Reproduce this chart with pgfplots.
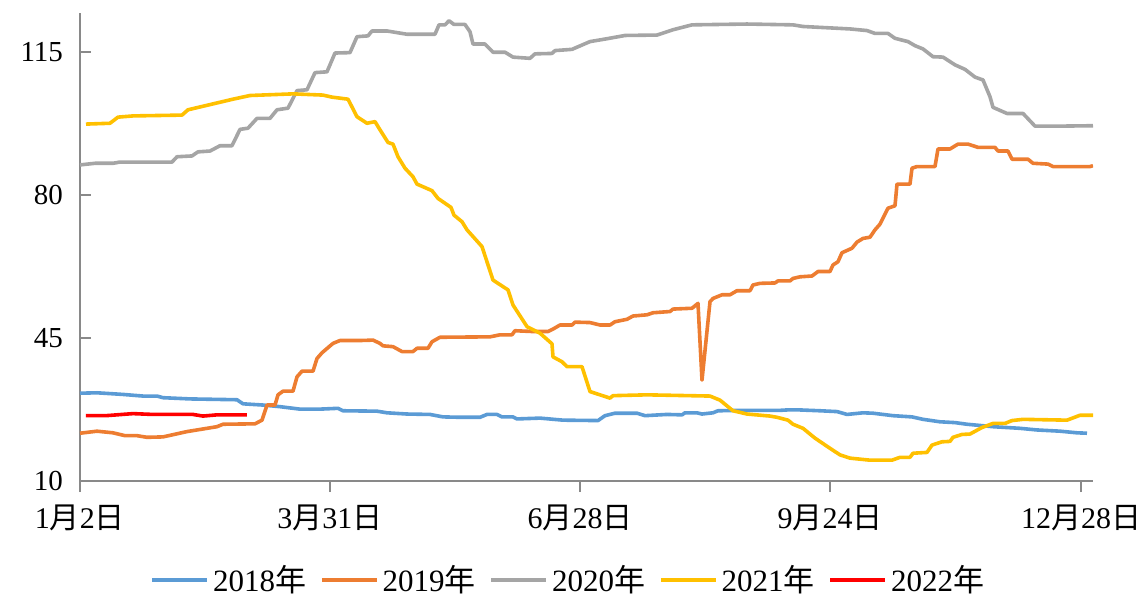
\documentclass[border=0pt]{standalone}
\usepackage{fontspec}
\setmainfont{Liberation Serif}
\newfontfamily\cjk{Noto Sans CJK SC}
\usepackage{pgfplots}
\pgfplotsset{compat=1.18}

\definecolor{c2018}{HTML}{5B9BD5}
\definecolor{c2019}{HTML}{ED7D31}
\definecolor{c2020}{HTML}{A5A5A5}
\definecolor{c2021}{HTML}{FFC000}
\definecolor{c2022}{HTML}{FF0000}
\definecolor{axgray}{HTML}{898989}

\newcommand{\yue}{{\cjk 月}}
\newcommand{\ri}{{\cjk 日}}
\newcommand{\nian}{{\cjk 年}}

\begin{document}
\begin{tikzpicture}
\begin{axis}[
  scale only axis,
  width=506.5pt, height=234.2pt,
  xmin=0, xmax=1013,
  ymin=10, ymax=124.7,
  axis x line*=bottom,
  axis y line*=left,
  axis line style={axgray, line width=1pt},
  xtick={0,250,500,750,1001},
  xticklabels={1\yue2\ri, 3\yue31\ri, 6\yue28\ri, 9\yue24\ri, 12\yue28\ri},
  ytick={10,45,80,115},
  xtick align=outside,
  ytick align=inside,
  major tick length=5.5pt,
  tick style={axgray, line width=1pt},
  xticklabel style={font=\fontsize{15}{18}\selectfont, yshift=-3pt},
  yticklabel style={font=\fontsize{14.5}{17}\selectfont, xshift=-5pt},
  /pgf/number format/assume math mode=true,
  legend style={
    draw=none, fill=none,
    at={(0.483,-0.211)}, anchor=center,
    font=\fontsize{15.5}{18}\selectfont,
    legend columns=5,
    /tikz/every even column/.append style={column sep=5pt},
  },
  legend image code/.code={\draw[#1, line width=1.75pt] (0pt,0pt) -- (27.5pt,0pt);},
  every axis plot/.append style={line width=1.8pt, line join=round},
]
\coordinate (o) at (rel axis cs:0,0);

% 2018
\addplot[c2018] coordinates {
(0,31.5)(17,31.6)(43,31.2)(63,30.8)(77,30.8)(83,30.4)(110,30.1)(157,29.9)(163,28.9)
(183,28.6)(200,28.2)(220,27.6)(240,27.6)(258,27.8)(263,27.2)(297,27.1)(307,26.7)
(327,26.4)(350,26.3)(363,25.7)(380,25.6)(400,25.6)(407,26.3)(417,26.3)(422,25.7)
(433,25.7)(437,25.2)(460,25.4)(483,24.9)(518,24.8)(525,26)(535,26.6)(557,26.6)
(565,26)(587,26.3)(602,26.2)(605,26.7)(617,26.7)(622,26.4)(633,26.7)(638,27.2)
(667,27.3)(700,27.3)(707,27.4)(720,27.4)(740,27.2)(757,27)(767,26.3)(783,26.7)
(793,26.6)(813,26)(832,25.7)(843,25.1)(860,24.5)(875,24.3)(887,23.9)(913,23.3)
(940,22.9)(957,22.5)(980,22.2)(997,21.8)(1007,21.7)
};
\addlegendentry{2018\nian}

% 2019
\addplot[c2019] coordinates {
(0,21.7)(17,22.2)(33,21.8)(45,21.1)(57,21.1)(67,20.7)(83,20.8)(107,22.1)(137,23.3)
(143,23.9)(175,24)(182,24.9)(187,28.6)(195,28.6)(198,31.1)(203,32)(213,32)(217,35.5)
(222,36.9)(233,36.9)(237,40)(242,41.4)(253,43.7)(260,44.4)(280,44.4)(293,44.5)
(300,43.7)(303,43.1)(313,42.9)(322,41.7)(333,41.7)(337,42.5)(348,42.5)(352,44.1)
(360,45.2)(410,45.3)(420,45.8)(432,45.8)(435,46.8)(453,46.6)(468,46.6)(473,47.2)
(480,48.2)(492,48.2)(495,48.9)(510,48.8)(520,48.2)(530,48.2)(535,49)(547,49.6)
(553,50.4)(567,50.7)(573,51.2)(590,51.5)(593,52.1)(612,52.3)(618,53.5)(622,34.7)
(630,53.9)(633,54.7)(642,55.6)(650,55.6)(657,56.6)(670,56.6)(673,58)(680,58.4)
(695,58.5)(698,59)(710,59)(713,59.6)(720,60)(732,60.2)(738,61.3)(750,61.3)(753,62.9)
(758,63.7)(762,65.9)(772,67)(777,68.5)(783,69.4)(790,69.7)(795,71.5)(800,72.9)
(808,76.8)(815,77.4)(817,82.7)(830,82.7)(832,86.6)(837,87)(855,87)(858,91.3)(870,91.3)
(878,92.5)(888,92.5)(898,91.7)(915,91.7)(918,90.8)(928,90.8)(932,88.8)(948,88.8)
(953,87.8)(968,87.6)(973,87)(1010,87)(1013,87.2)
};
\addlegendentry{2019\nian}

% 2020
\addplot[c2020] coordinates {
(0,87.4)(15,87.8)(33,87.8)(40,88.1)(92,88.1)(97,89.4)(112,89.6)(118,90.6)(130,90.8)
(140,92.1)(152,92.1)(160,96.1)(168,96.4)(177,98.8)(190,98.8)(197,100.9)(208,101.3)
(217,105.6)(227,105.8)(235,110)(247,110.2)(255,114.8)(270,114.9)(277,118.8)(288,119)
(292,120.2)(307,120.2)(317,119.8)(327,119.4)(355,119.4)(359,121.7)(365,121.7)
(369,122.7)(374,121.8)(385,121.8)(390,120)(393,117)(405,117)(413,115)(425,115)
(433,113.8)(450,113.5)(455,114.6)(472,114.7)(475,115.4)(492,115.7)(510,117.6)
(527,118.3)(545,119.1)(577,119.2)(593,120.5)(612,121.7)(667,121.9)(713,121.7)
(723,121.3)(770,120.7)(787,120.3)(795,119.6)(808,119.6)(815,118.4)(828,117.6)
(835,116.6)(843,115.8)(853,113.9)(863,113.8)(875,111.9)(885,110.8)(895,108.9)
(903,108.2)(910,104.1)(913,101.5)(927,100)(943,100)(955,96.9)(980,96.9)(1013,97)
};
\addlegendentry{2020\nian}

% 2021
\addplot[c2021] coordinates {
(6,97.4)(30,97.6)(38,99.1)(53,99.4)(102,99.6)(108,100.9)(153,103.5)(170,104.4)
(213,104.8)(243,104.5)(252,104)(268,103.5)(277,99.2)(287,97.6)(295,98)(300,96)
(308,92.9)(313,92.5)(318,89.4)(325,86.6)(333,84.5)(337,82.7)(352,81.1)(358,79.2)
(371,77)(374,75.1)(382,73.5)(387,71.5)(402,67.4)(413,59.2)(428,56.8)(433,53.1)
(447,47.8)(460,46.2)(472,43.6)(473,40.4)(482,39.2)(487,38)(502,38)(510,31.9)
(530,30.3)(533,30.9)(567,31.1)(630,30.8)(640,29.8)(653,27.2)(667,26.4)(690,25.9)
(697,25.6)(708,24.9)(713,23.9)(723,22.9)(735,20.5)(750,18)(760,16.4)(770,15.6)
(790,15.1)(812,15.1)(820,15.8)(830,15.8)(833,16.8)(847,17)(852,18.8)(862,19.6)
(870,19.7)(873,20.7)(882,21.4)(890,21.5)(902,23.1)(913,24.1)(925,24.1)(932,24.8)
(943,25.1)(987,24.9)(1000,26.1)(1013,26.1)
};
\addlegendentry{2021\nian}

% 2022
\addplot[c2022] coordinates {
(6,26)(26,26)(53,26.5)(73,26.3)(113,26.3)(123,25.9)(137,26.2)(167,26.2)
};
\addlegendentry{2022\nian}
\end{axis}
\pgfresetboundingbox
\path (o) ++(-40pt,-57.5pt) rectangle ++(573.5pt,298pt);
\end{tikzpicture}
\end{document}
